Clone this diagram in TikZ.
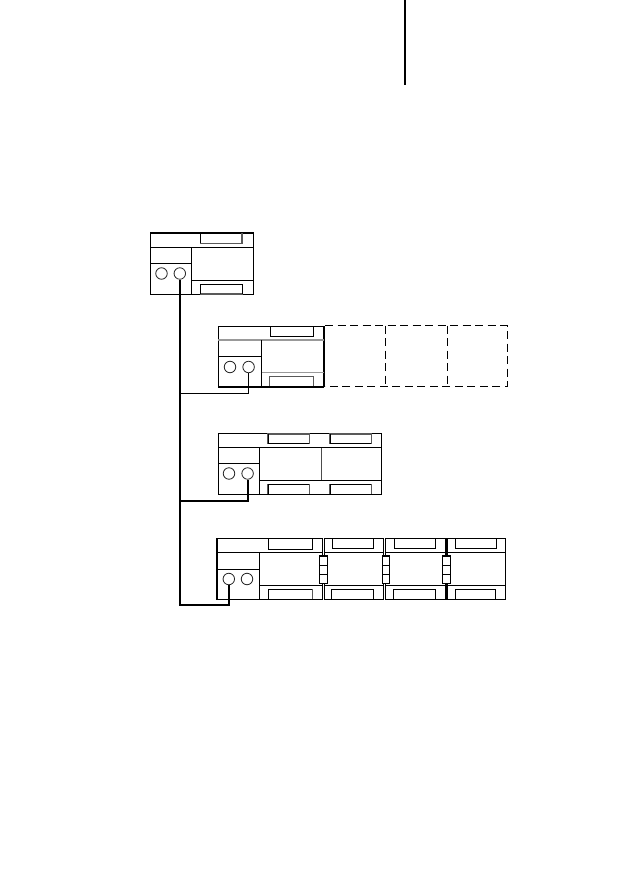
\documentclass[tikz,border=0pt]{standalone}
\tikzset{
  x=1pt,y=-1pt,
  frame/.style={draw=black,line width=1pt,fill=white},
  rule/.style={draw=black,line width=0.95pt},
  softrule/.style={draw=black!40,line width=1.2pt},
  slotbox/.style={draw=black,line width=0.95pt},
  softslot/.style={draw=black!65,line width=1.1pt},
  port/.style={circle,draw=black!85,line width=0.8pt,minimum size=11.5pt,inner sep=0pt,fill=white},
  bus/.style={draw=black,line width=2.1pt},
  feed/.style={draw=black,line width=1pt},
  heavyedge/.style={draw=black,line width=2.1pt},
  ghost/.style={draw=black,line width=1pt,dash pattern=on 8pt off 4.5pt},
  plug/.style={draw=black,line width=0.95pt,fill=white},
}
\begin{document}
\begin{tikzpicture}
\useasboundingbox (0,0) rectangle (630,893);
\fill[white] (0,0) rectangle (630,893);

% margin bar
\coordinate (barA) at (404.5,0);
\coordinate (barB) at (404.5,85);
\draw[line width=2pt] (barA) -- (barB);

% master unit
\draw[frame] (150.5,233) rectangle (253.5,294);
\draw[line width=1.7pt] (150.5,233) -- (253.5,233);
\draw[rule] (150.5,247.7) -- (253.5,247.7);
\draw[rule] (191.7,247.7) -- (191.7,294);
\draw[rule] (150.5,263.3) -- (191.7,263.3);
\draw[rule] (191.7,280.3) -- (253.5,280.3);
\draw[softslot] (242,233.5) |- (200.2,243.3);
\draw[slotbox] (200.2,233.5) -- (200.2,243.3);
\draw[softslot] (200.2,284.3) rectangle (242.3,294);
\draw[slotbox] (200.2,294) |- (242.3,284.3) -- (242.3,294);
\node[port] (m1) at (161.5,273.5) {};
\node[port] (m2) at (179.8,273.5) {};

% expansion unit with reserved slots
\draw[ghost] (325,325.5) -- (507,325.5) -- (507,386.5) -- (325,386.5);
\draw[ghost] (385.5,325.5) -- (385.5,386.5);
\draw[ghost] (447.7,325.5) -- (447.7,386.5);
\draw[frame] (218.3,326.3) rectangle (324,386.7);
\draw[heavyedge] (324,326) -- (324,387.4);
\draw[heavyedge] (218,386.7) -- (324,386.7);
\draw[softrule] (218.3,340) -- (324,340);
\draw[rule] (261.5,340) -- (261.5,386.7);
\draw[rule] (218.3,356) -- (261.5,356);
\draw[softrule] (261.5,372.3) -- (324,372.3);
\draw[slotbox] (270.3,326.3) rectangle (313.7,336.5);
\draw[softslot] (269.6,386) |- (313.7,376.5) -- (313.7,386);
\node[port] (a1) at (230,367) {};
\node[port] (a2) at (248.6,367) {};

% double-width unit
\draw[frame] (218.3,433.7) rectangle (381.3,494);
\draw[line width=1.6pt] (381.3,433.4) -- (381.3,494.4);
\draw[rule] (218.3,447.7) -- (381.3,447.7);
\draw[rule] (259.3,447.7) -- (259.3,494);
\draw[rule] (218.3,463.3) -- (259.3,463.3);
\draw[rule] (259.3,480.3) -- (381.3,480.3);
\draw[draw=black!70,line width=1.1pt] (321.3,447.7) -- (321.3,480.3);
\foreach \sx in {268,330}{
  \draw[softslot] (\sx,434) rectangle (\sx+41.3,443.5);
  \draw[slotbox] (\sx,434) -- (\sx,443.5) -- (\sx+41.3,443.5);
  \draw[softslot] (\sx,494) |- (\sx+41.3,484.3) -- (\sx+41.3,494);
  \draw[slotbox] (\sx,494) |- (\sx+41.3,484.3);
}
\node[port] (b1) at (229,473.5) {};
\node[port] (b2) at (247.6,473.5) {};

% unit with chained expansion modules
\draw[frame] (216.7,538.7) rectangle (322.3,599.2);
\draw[line width=1.6pt] (216.7,538.2) -- (216.7,599.7);
\draw[rule] (216.7,552.3) -- (322.3,552.3);
\draw[rule] (259.7,552.3) -- (259.7,599.2);
\draw[rule] (216.7,569.3) -- (259.7,569.3);
\draw[rule] (259.7,585.3) -- (322.3,585.3);
\draw[slotbox] (268.5,539) |- (312.5,549) -- (312.5,539);
\draw[slotbox] (268.5,599) |- (312.5,589.2);
\draw[softslot] (312.5,589.2) -- (312.5,599);
\node[port] (c1) at (228.8,579) {};
\node[port] (c2) at (247,579) {};

\draw[frame] (324.3,538.7) rectangle (383.7,599.2);
\draw[frame] (385.3,538.7) rectangle (446,599.2);
\draw[frame] (446,538.7) rectangle (505.7,599.2);
\draw[line width=3pt] (446,538.2) -- (446,599.7);
\foreach \lx/\rx in {324.3/383.7,385.3/446,446/505.7}{
  \draw[rule] (\lx,552.3) -- (\rx,552.3);
  \draw[rule] (\lx,585.3) -- (\rx,585.3);
}
\foreach \sa/\sb/\ta/\tb in {332.3/373.5/331.3/373.5,394.3/435.7/393/435,455.3/496/455.3/495.5}{
  \draw[slotbox] (\sa,539) |- (\sb,548.7) -- (\sb,539);
  \draw[slotbox] (\ta,599) |- (\tb,589.2) -- (\tb,599);
}

% bus connectors between modules
\foreach \pl/\pr in {319.7/327.3,382.5/389.7,442.7/450}{
  \draw[plug] (\pl,555.7) rectangle (\pr,583.3);
  \draw[line width=1.6pt] (\pl,555.7) -- (\pr,555.7);
  \draw[rule] (\pl,565) -- (\pr,565);
  \draw[rule] (\pl,574) -- (\pr,574);
}

% network wiring
\coordinate (t1) at (m2.center |- 0,393.5);
\coordinate (t2) at (m2.center |- 0,500.8);
\coordinate (t3) at (m2.center |- 0,605.3);
\draw[bus,line join=miter] (m2.south) -- (t3) -- (c1.center |- t3) -- (c1.south);
\draw[feed] (t1) -| (a2.south);
\draw[bus] (t2) -| (b2.south);
\end{tikzpicture}
\end{document}
